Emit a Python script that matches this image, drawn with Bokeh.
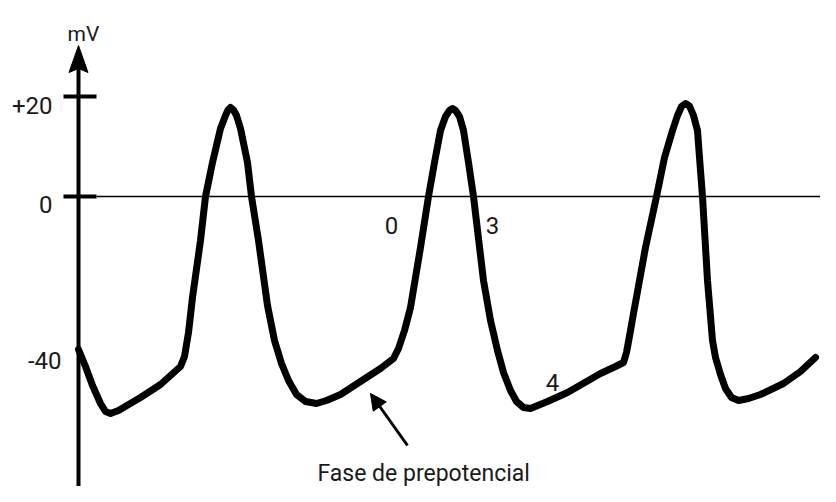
from bokeh.plotting import figure
from bokeh.models import Range1d, Arrow, NormalHead, ColumnDataSource
from bokeh.core.properties import value
from bokeh.embed import file_html
from bokeh.resources import INLINE

# Membrane potential trace (time in ms, potential in mV, as drawn)
t_ms = [0, 7, 14, 22, 27, 32, 40, 62, 82, 102, 106, 110, 114, 122, 127, 134, 142, 147, 149.5,
        152, 155, 158, 162, 169, 173, 180, 189, 196, 203, 210, 218, 227, 238, 248, 262, 282,
        302, 315, 320, 326, 332, 342, 350, 356, 362, 367, 371, 374, 377, 381, 385, 390, 395,
        405, 412, 419, 425, 432, 438, 445, 452, 469, 489, 522, 537, 545, 548, 552, 555, 567,
        578, 586, 594, 599, 603, 607, 611, 615, 619, 621, 624, 629, 634, 637, 642, 647, 653,
        660, 670, 682, 705, 722, 737]
v_mv = [-30.6, -34.0, -37.8, -41.4, -43.0, -43.4, -42.8, -40.2, -37.6, -34.0, -32.0, -27.2,
        -20.2, -8.8, 0.0, 6.8, 13.6, 16.2, 17.3, 17.8, 17.3, 16.2, 13.6, 6.8, 0.0, -8.8, -21.8,
        -28.8, -33.4, -36.8, -39.6, -41.0, -41.4, -40.8, -39.6, -37.0, -34.4, -32.4, -30.4,
        -26.8, -22.2, -10.2, 0.0, 6.8, 13.2, 16.0, 17.2, 17.6, 17.2, 16.0, 13.2, 6.8, 0.0,
        -16.8, -24.8, -30.8, -35.2, -38.8, -41.0, -42.2, -42.4, -41.0, -39.2, -35.4, -34.0,
        -33.2, -31.2, -26.8, -23.4, -10.2, 0.0, 7.8, 13.2, 16.2, 18.0, 18.6, 18.1, 16.2, 13.2,
        7.8, 0.0, -16.8, -28.8, -32.2, -35.6, -38.4, -40.2, -40.8, -40.4, -39.6, -37.4, -35.0,
        -32.2]

# Axis tick marks and labels
tick_values = [20, 0]
tick_labels = ["+20", "0", "-40"]
tick_label_y = [18.2, -1.6, -32.8]

# Phase labels
phase_text = ["0", "3", "4"]
phase_x = [313, 414, 474]
phase_y = [-5.8, -5.8, -37.2]

FONT = value("Roboto")
TXT = "#1a1a1a"

Y_BOTTOM = -58.0
X_RIGHT = 742

p = figure(width=820, height=486, output_backend="svg", toolbar_location=None,
           x_range=Range1d(-78, X_RIGHT), y_range=Range1d(Y_BOTTOM, 39.2),
           x_axis_type=None, y_axis_type=None, min_border=0)
p.xgrid.visible = False
p.ygrid.visible = False
p.outline_line_color = None

# zero reference line
p.segment(x0=[18], y0=[0], x1=[X_RIGHT], y1=[0], line_color="black", line_width=1.5)

# vertical axis with arrow head
axis_top = 30.2
p.segment(x0=[0], y0=[Y_BOTTOM], x1=[0], y1=[axis_top - 4], line_color="black", line_width=4)
head_len_px, head_w_px, notch_px = 27, 19, 4
px_per_mv = 5.0
p.patch(x=[0, head_w_px / 2, 0, -head_w_px / 2],
        y=[axis_top, axis_top - head_len_px / px_per_mv,
           axis_top - (head_len_px - notch_px) / px_per_mv, axis_top - head_len_px / px_per_mv],
        fill_color="black", line_color="black", line_width=1)

# tick marks
p.segment(x0=[-15] * len(tick_values), y0=tick_values, x1=[18] * len(tick_values),
          y1=tick_values, line_color="black", line_width=4)

# tick labels
p.text(x=[-26, -26, -17], y=tick_label_y, text=tick_labels, text_align="right",
       text_baseline="alphabetic", text_font=FONT, text_font_size="24px", text_color=TXT)
p.text(x=[5], y=[32.6], text=["mV"], text_align="center", text_baseline="alphabetic",
       text_font=FONT, text_font_size="21px", text_color=TXT)

# trace
src = ColumnDataSource(dict(t=t_ms, v=v_mv))
p.line("t", "v", source=src, line_color="black", line_width=7,
       line_join="round", line_cap="round")

# phase labels
p.text(x=phase_x, y=phase_y, text=phase_text, text_align="center",
       text_baseline="alphabetic", text_font=FONT, text_font_size="24px", text_color=TXT)

# annotation
p.add_layout(Arrow(end=NormalHead(size=16, fill_color="black", line_color="black"),
                   x_start=329, y_start=-49.8, x_end=292, y_end=-39.4,
                   line_color="black", line_width=3))
p.text(x=[239], y=[-55.4], text=["Fase de prepotencial"], text_align="left",
       text_baseline="alphabetic", text_font=FONT, text_font_size="23px", text_color=TXT)

open("out.html", "w").write(file_html(p, INLINE))
